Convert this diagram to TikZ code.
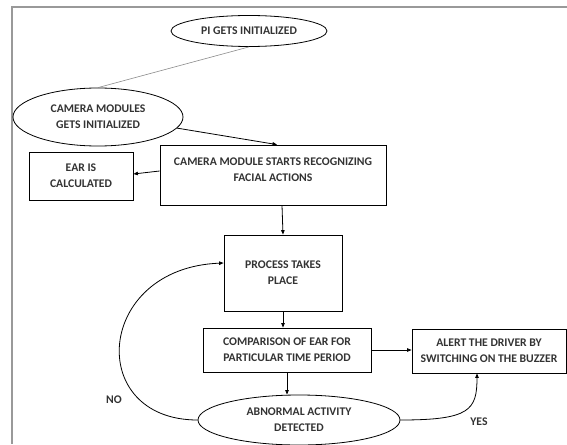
\documentclass[tikz,border=0pt]{standalone}
\usepackage{fontspec}
\setmainfont{Carlito}
\usetikzlibrary{shapes.geometric,arrows.meta}
\begin{document}
\begin{tikzpicture}[x=1pt,y=-1pt,
  every node/.style={font=\fontsize{11.7}{16}\selectfont\bfseries, text=black!80, align=center, inner sep=0pt},
  oval/.style={draw, ellipse, line width=0.8pt},
  box/.style={draw, rectangle, line width=0.8pt},
  conn/.style={line width=0.8pt, -{Triangle[length=4.5pt,width=3.5pt]}},
  lbl/.style={font=\fontsize{11.7}{13}\selectfont\bfseries}
]
\useasboundingbox (0,0) rectangle (567,444);
\fill[white] (0,0) rectangle (567,444);
\draw[black!40, line width=1.5pt] (11,7) -- (567,7);
\draw[black!40, line width=1.5pt] (12,7) -- (12,444);

\node[oval, minimum width=156, minimum height=31] (pi) at (249,31) {PI GETS INITIALIZED};
\node[oval, minimum width=170, minimum height=58] (camE) at (98,117) {CAMERA MODULES\\GETS INITIALIZED};
\node[box, minimum width=226, minimum height=60] (camB) at (273,175) {CAMERA MODULE STARTS RECOGNIZING\\FACIAL ACTIONS\\[-6pt]~};
\node[box, minimum width=104, minimum height=48] (ear) at (81,176) {EAR IS\\CALCULATED};
\node[box, minimum width=118, minimum height=76] (proc) at (283,273) {PROCESS TAKES\\PLACE};
\node[box, minimum width=168, minimum height=44] (comp) at (287,350) {COMPARISON OF EAR FOR\\PARTICULAR TIME PERIOD};
\node[box, minimum width=154, minimum height=44] (alert) at (489,351) {ALERT THE DRIVER BY\\SWITCHING ON THE BUZZER};
\node[oval, minimum width=202, minimum height=50] (abn) at (299,420) {ABNORMAL ACTIVITY\\DETECTED};

\node[lbl] (no) at (114,400) {NO};
\node[lbl] (yes) at (479,422) {YES};

\draw[black!45, line width=0.6pt] (pi.south) -- (camE.north);
\draw[conn] (camE.-8) -- ([xshift=4pt]camB.north);
\draw[conn] ([yshift=4pt]camB.west) -- ([yshift=2pt]ear.east);
\draw[conn] ([xshift=9pt]camB.south) -- (proc.north);
\draw[conn] (proc.south) -- (proc.south |- comp.north);
\draw[conn] (comp.east) -- (comp.east -| alert.west);
\draw[conn] (comp.south) -- (comp.south |- abn.north);
\draw[conn] (abn.west) .. controls (85,420) and (95,268) .. ([yshift=10pt]proc.west);
\draw[conn] (abn.east) .. controls (470,420) and (477,410) .. ([xshift=-12pt]alert.south);
\end{tikzpicture}
\end{document}
